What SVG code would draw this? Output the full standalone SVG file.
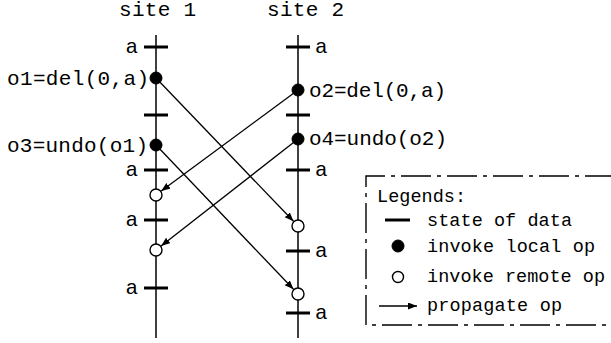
<svg xmlns="http://www.w3.org/2000/svg" width="611" height="343" viewBox="0 0 611 343">
<style>
text{font-family:"Liberation Mono","Courier New",monospace;font-size:21px;fill:#000}
.lg{font-size:18.5px}
.life{stroke:#000;stroke-width:1.5;fill:none}
.tick{stroke:#000;stroke-width:3;fill:none}
.msg{stroke:#000;stroke-width:1.3;fill:none;marker-end:url(#ah)}
.loc{fill:#000;stroke:#000;stroke-width:1}
.rem{fill:#fff;stroke:#000;stroke-width:1.4}
.box{stroke:#000;stroke-width:1.4;fill:none;stroke-dasharray:30 6 4 6}
</style>
<defs>
<marker id="ah" markerUnits="userSpaceOnUse" markerWidth="10" markerHeight="8" refX="9" refY="3.5" orient="auto">
<path d="M0,0 L9,3.5 L0,7 z" fill="#000"/>
</marker>
</defs>
<g id="site1">
<text x="119" y="16" textLength="77" lengthAdjust="spacing">site 1</text>
<line class="life" x1="156" y1="35" x2="156" y2="338"/>
<line class="tick" x1="144" y1="47" x2="168" y2="47"/>
<line class="tick" x1="144" y1="115" x2="168" y2="115"/>
<line class="tick" x1="144" y1="170" x2="168" y2="170"/>
<line class="tick" x1="144" y1="220" x2="168" y2="220"/>
<line class="tick" x1="144" y1="288" x2="168" y2="288"/>
<text x="138" y="53" text-anchor="end">a</text>
<text x="138" y="176" text-anchor="end">a</text>
<text x="138" y="226" text-anchor="end">a</text>
<text x="138" y="294" text-anchor="end">a</text>
<text x="7" y="85" textLength="142" lengthAdjust="spacing">o1=del(0,a)</text>
<text x="7" y="152" textLength="141" lengthAdjust="spacing">o3=undo(o1)</text>
</g>
<g id="site2">
<text x="267" y="16" textLength="77" lengthAdjust="spacing">site 2</text>
<line class="life" x1="298" y1="35" x2="298" y2="338"/>
<line class="tick" x1="286" y1="47" x2="310" y2="47"/>
<line class="tick" x1="286" y1="115" x2="310" y2="115"/>
<line class="tick" x1="286" y1="170" x2="310" y2="170"/>
<line class="tick" x1="286" y1="251" x2="310" y2="251"/>
<line class="tick" x1="286" y1="313" x2="310" y2="313"/>
<text x="315" y="53">a</text>
<text x="315" y="176">a</text>
<text x="315" y="257">a</text>
<text x="315" y="319">a</text>
<text x="309" y="97" textLength="137" lengthAdjust="spacing">o2=del(0,a)</text>
<text x="309" y="145" textLength="138" lengthAdjust="spacing">o4=undo(o2)</text>
</g>
<g id="connectors">
<line class="msg" x1="156" y1="78" x2="293.5" y2="221.3"/>
<line class="msg" x1="156" y1="145" x2="293.5" y2="289.3"/>
<line class="msg" x1="298" y1="90" x2="161.2" y2="191.1"/>
<line class="msg" x1="298" y1="139" x2="161.1" y2="246"/>
</g>
<g id="events">
<circle class="loc" cx="156" cy="78" r="6"/>
<circle class="loc" cx="156" cy="145" r="6"/>
<circle class="loc" cx="298" cy="90" r="6"/>
<circle class="loc" cx="298" cy="139" r="6"/>
<circle class="rem" cx="156" cy="195" r="6"/>
<circle class="rem" cx="156" cy="250" r="6"/>
<circle class="rem" cx="298" cy="226" r="6"/>
<circle class="rem" cx="298" cy="294" r="6"/>
</g>
<g id="legend">
<path class="box" d="M615,176 H366 V325 H615"/>
<text class="lg" x="377" y="202" textLength="89" lengthAdjust="spacing">Legends:</text>
<line class="tick" x1="385" y1="220" x2="410" y2="220"/>
<text class="lg" x="427" y="226" textLength="145" lengthAdjust="spacing">state of data</text>
<circle class="loc" cx="398" cy="246" r="6"/>
<text class="lg" x="427" y="252" textLength="168" lengthAdjust="spacing">invoke local op</text>
<circle class="rem" cx="398" cy="277" r="5.5"/>
<text class="lg" x="427" y="282" textLength="178" lengthAdjust="spacing">invoke remote op</text>
<line class="msg" x1="379" y1="306" x2="417" y2="306"/>
<text class="lg" x="427" y="311" textLength="135" lengthAdjust="spacing">propagate op</text>
</g>
</svg>
